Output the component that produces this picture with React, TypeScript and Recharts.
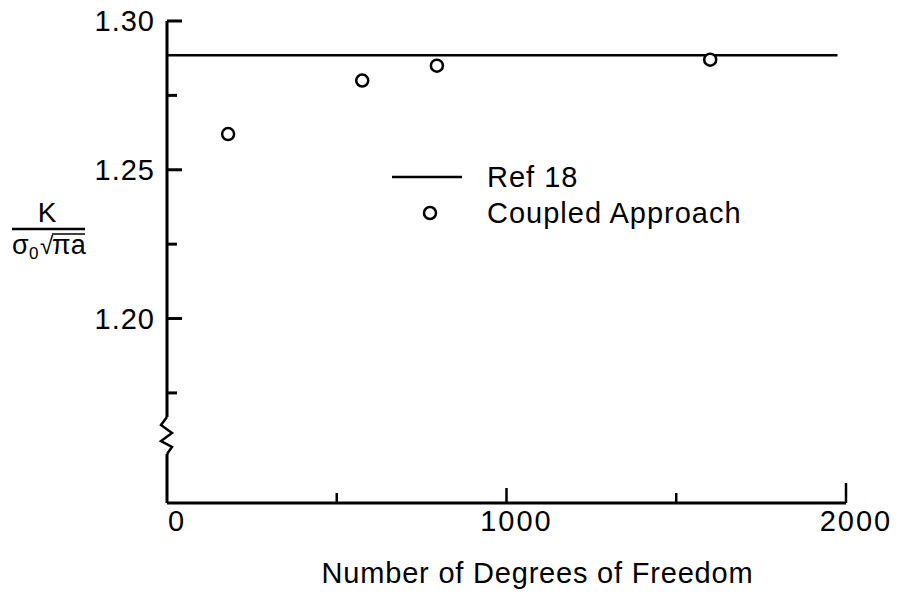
import { ComposedChart, Line, Scatter, XAxis, YAxis, Legend } from 'recharts';

// data
const REF_18_X = [0, 1975];
const REF_18_K = [1.2885, 1.2885];
const COUPLED_DOF = [180, 575, 795, 1600];
const COUPLED_K = [1.262, 1.28, 1.285, 1.287];

const X_TICKS = [0, 500, 1000, 1500, 2000];
const X_LABELLED = [0, 1000, 2000];
const Y_TICKS = [1.175, 1.2, 1.225, 1.25, 1.275, 1.3];
const Y_LABELLED = [1.2, 1.25, 1.3];

const refData = REF_18_X.map((x, i) => ({ x, y: REF_18_K[i] }));
const coupledData = COUPLED_DOF.map((x, i) => ({ x, y: COUPLED_K[i] }));

const FONT = "'Liberation Sans', Arial, Helvetica, sans-serif";
const W = 905;
const H = 598;
const MARGIN = { top: 21, right: 59, bottom: 0, left: 0 };
const Y_AXIS_W = 167;
const X_AXIS_H = 95;
const PLOT_LEFT = MARGIN.left + Y_AXIS_W;
const PLOT_BOTTOM = H - MARGIN.bottom - X_AXIS_H;

// ticks point inward, only some of them carry a number
const YTick = (props: any) => {
  const { payload } = props;
  const y = payload.coordinate ?? props.y;
  const major = Y_LABELLED.includes(payload.value);
  return (
    <g>
      <line x1={PLOT_LEFT} x2={PLOT_LEFT + (major ? 15 : 10)} y1={y} y2={y} stroke="#000" strokeWidth={3} />
      {major && (
        <text x={PLOT_LEFT - 12} y={y + 10} textAnchor="end" fontSize={29} letterSpacing={1} fontFamily={FONT} fill="#000">
          {payload.value.toFixed(2)}
        </text>
      )}
    </g>
  );
};

const XTick = (props: any) => {
  const { payload } = props;
  const x = payload.coordinate ?? props.x;
  const major = X_LABELLED.includes(payload.value);
  const len = payload.value === 2000 ? 20 : major ? 15 : 10;
  return (
    <g>
      {payload.value !== 0 && (
        <line x1={x} x2={x} y1={PLOT_BOTTOM} y2={PLOT_BOTTOM - len} stroke="#000" strokeWidth={2.5} />
      )}
      {major && (
        <text x={x + 10} y={PLOT_BOTTOM + 28} textAnchor="middle" fontSize={29} letterSpacing={2} fontFamily={FONT} fill="#000">
          {payload.value}
        </text>
      )}
    </g>
  );
};

// K / (σ0 √πa) label plus the axis break
const YAxisExtras = (props: any) => {
  const vb = props.viewBox || {};
  const ax = (vb.x ?? 0) + (vb.width ?? Y_AXIS_W);
  return (
    <g fontFamily={FONT} fill="#000">
      <text x={47} y={222} textAnchor="middle" fontSize={28}>K</text>
      <line x1={12} x2={85} y1={229} y2={229} stroke="#000" strokeWidth={2.5} />
      <text x={12} y={254} fontSize={27}>σ</text>
      <text x={29} y={259} fontSize={17}>0</text>
      <text x={40} y={254} fontSize={24}>√</text>
      <text x={52} y={254} fontSize={27}>πa</text>
      <line x1={52} x2={85} y1={234} y2={234} stroke="#000" strokeWidth={1.5} />
      <rect x={ax - 4} y={417} width={8} height={37} fill="#fff" />
      <polyline
        points={`${ax},417 ${ax - 6},425 ${ax + 5},433 ${ax - 6},441 ${ax + 5},447 ${ax},454`}
        fill="none"
        stroke="#000"
        strokeWidth={2.5}
      />
    </g>
  );
};

const XAxisTitle = (props: any) => {
  const vb = props.viewBox || {};
  return (
    <text
      x={(vb.x ?? PLOT_LEFT) + (vb.width ?? 679) / 2 + 31}
      y={PLOT_BOTTOM + 80}
      textAnchor="middle"
      fontSize={29}
      letterSpacing={0.8}
      fontFamily={FONT}
      fill="#000"
    >
      Number of Degrees of Freedom
    </text>
  );
};

const renderLegend = (props: any) => {
  const items = props.payload || [];
  const order = ['Ref 18', 'Coupled Approach'];
  const sorted = [...items].sort((a: any, b: any) => order.indexOf(a.value) - order.indexOf(b.value));
  return (
    <svg width={420} height={75} style={{ display: 'block' }}>
      {sorted.map((it: any, i: number) => {
        const cy = 17 + i * 36;
        return (
          <g key={it.value}>
            {it.value === 'Ref 18' ? (
              <line x1={0} x2={70} y1={cy} y2={cy} stroke="#000" strokeWidth={2.5} />
            ) : (
              <circle cx={38} cy={cy} r={6} fill="#fff" stroke="#000" strokeWidth={2.5} />
            )}
            <text x={95} y={cy + 10} fontSize={29} letterSpacing={1} fontFamily={FONT} fill="#000">
              {it.value}
            </text>
          </g>
        );
      })}
    </svg>
  );
};

function App() {
  return (
    <div style={{ position: 'absolute', left: 0, top: 0 }}>
      <ComposedChart width={W} height={H} margin={MARGIN} style={{ background: '#fff' }}>
        <XAxis
          type="number"
          dataKey="x"
          domain={[0, 2000]}
          ticks={X_TICKS}
          height={X_AXIS_H}
          axisLine={{ stroke: '#000', strokeWidth: 3 }}
          tickLine={false}
          tick={XTick}
          interval={0}
          label={{ content: XAxisTitle }}
        />
        <YAxis
          type="number"
          domain={[1.138, 1.3]}
          ticks={Y_TICKS}
          width={Y_AXIS_W}
          axisLine={{ stroke: '#000', strokeWidth: 3 }}
          tickLine={false}
          tick={YTick}
          interval={0}
          allowDataOverflow
          label={{ content: YAxisExtras }}
        />
        <Legend
          layout="vertical"
          align="center"
          verticalAlign="middle"
          content={renderLegend}
          wrapperStyle={{ left: 392, top: 160, width: 420, height: 75 }}
        />
        <Line
          name="Ref 18"
          data={refData}
          dataKey="y"
          stroke="#000"
          strokeWidth={2.5}
          dot={false}
          isAnimationActive={false}
        />
        <Scatter
          name="Coupled Approach"
          data={coupledData}
          dataKey="y"
          isAnimationActive={false}
          shape={(p: any) => <circle cx={p.cx} cy={p.cy} r={6} fill="#fff" stroke="#000" strokeWidth={2.5} />}
        />
      </ComposedChart>
    </div>
  );
}

export default App;
